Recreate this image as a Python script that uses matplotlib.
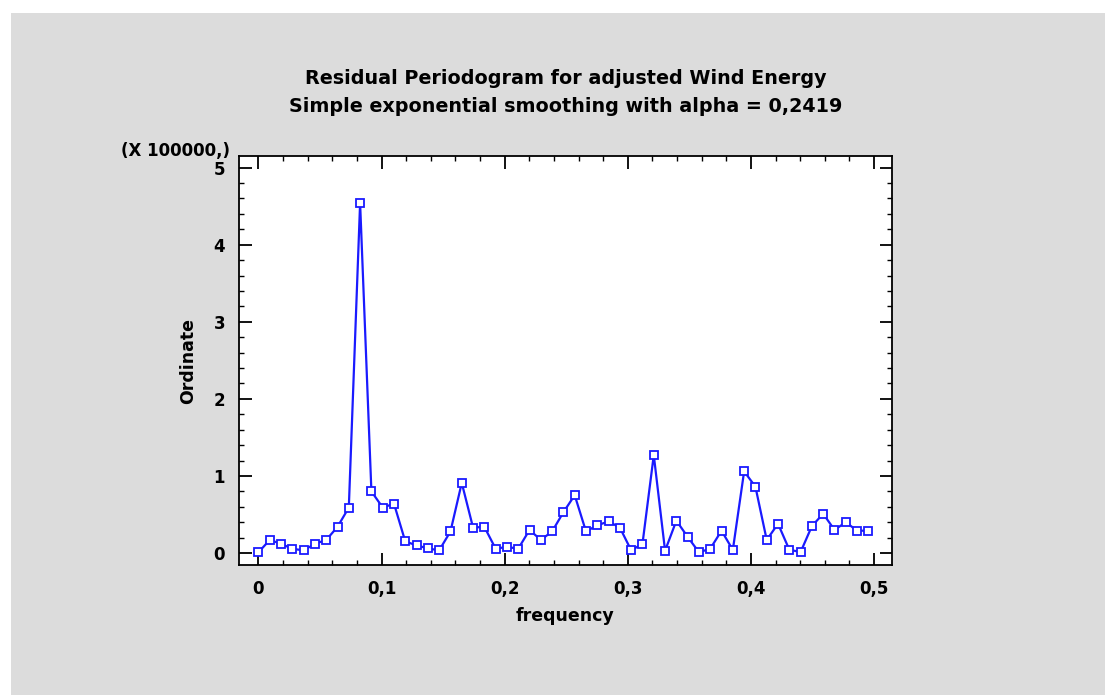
import numpy as np
import matplotlib
matplotlib.use("Agg")
import matplotlib.pyplot as plt
from matplotlib.patches import Rectangle
from matplotlib.ticker import MultipleLocator, FuncFormatter

n_obs = 109
ordinate = [0.01, 0.17, 0.12, 0.055, 0.035, 0.12, 0.17, 0.34, 0.59, 4.54,
            0.80, 0.59, 0.64, 0.15, 0.10, 0.06, 0.035, 0.28, 0.91, 0.33,
            0.34, 0.056, 0.08, 0.056, 0.30, 0.17, 0.28, 0.53, 0.75, 0.28,
            0.36, 0.41, 0.33, 0.035, 0.12, 1.27, 0.03, 0.42, 0.21, 0.01,
            0.056, 0.29, 0.04, 1.06, 0.86, 0.17, 0.38, 0.043, 0.013, 0.35,
            0.51, 0.30, 0.40, 0.29, 0.29]
frequency = [k / n_obs for k in range(len(ordinate))]

plt.rcParams['font.family'] = ['DejaVu Sans']
plt.rcParams['font.weight'] = 'bold'

fig = plt.figure(figsize=(11.05, 6.95), dpi=100)
fig.patch.set_facecolor('white')
fig.patches.append(Rectangle((11/1105, 0), 1 - 11/1105, 1 - 13/695,
                             transform=fig.transFigure, facecolor='#dcdcdc',
                             edgecolor='none', zorder=-10))

ax = fig.add_axes([239/1105, 130/695, 653/1105, 409/695])
ax.set_facecolor('white')
ax.plot(frequency, ordinate, color='#1a1aff', lw=1.6, marker='s', ms=5.5,
        mfc='white', mec='#1a1aff', mew=1.3)

ax.set_xlim(-0.0158, 0.5146)
ax.set_ylim(-0.155, 5.15)
ax.xaxis.set_major_locator(MultipleLocator(0.1))
ax.xaxis.set_minor_locator(MultipleLocator(0.02))
ax.yaxis.set_major_locator(MultipleLocator(1))
ax.yaxis.set_minor_locator(MultipleLocator(0.2))
ax.xaxis.set_major_formatter(FuncFormatter(lambda v, p: ('%g' % round(v, 2)).replace('.', ',')))
ax.yaxis.set_major_formatter(FuncFormatter(lambda v, p: '%d' % round(v)))

ax.tick_params(which='both', direction='in', top=True, right=True, labelsize=12)
ax.tick_params(which='major', length=9, width=1.3)
ax.tick_params(which='minor', length=3.5, width=1.0)
ax.tick_params(axis='x', which='major', pad=11)
ax.tick_params(axis='y', which='major', pad=10)
for s in ax.spines.values():
    s.set_linewidth(1.3)
for lab in ax.get_xticklabels() + ax.get_yticklabels():
    lab.set_fontweight('bold')

ax.set_xlabel('frequency', fontsize=12.5, fontweight='bold', labelpad=6)
ax.set_ylabel('Ordinate', fontsize=12.5, fontweight='bold', labelpad=12)

fig.text(566/1105, 1 - 78/695, 'Residual Periodogram for adjusted Wind Energy',
         ha='center', va='center', fontsize=13.8, fontweight='bold')
fig.text(566/1105, 1 - 107/695, 'Simple exponential smoothing with alpha = 0,2419',
         ha='center', va='center', fontsize=13.8, fontweight='bold')
fig.text(230/1105, 1 - 151/695, '(X 100000,)', ha='right', va='center',
         fontsize=12, fontweight='bold')

fig.savefig('out.png', dpi=100)
